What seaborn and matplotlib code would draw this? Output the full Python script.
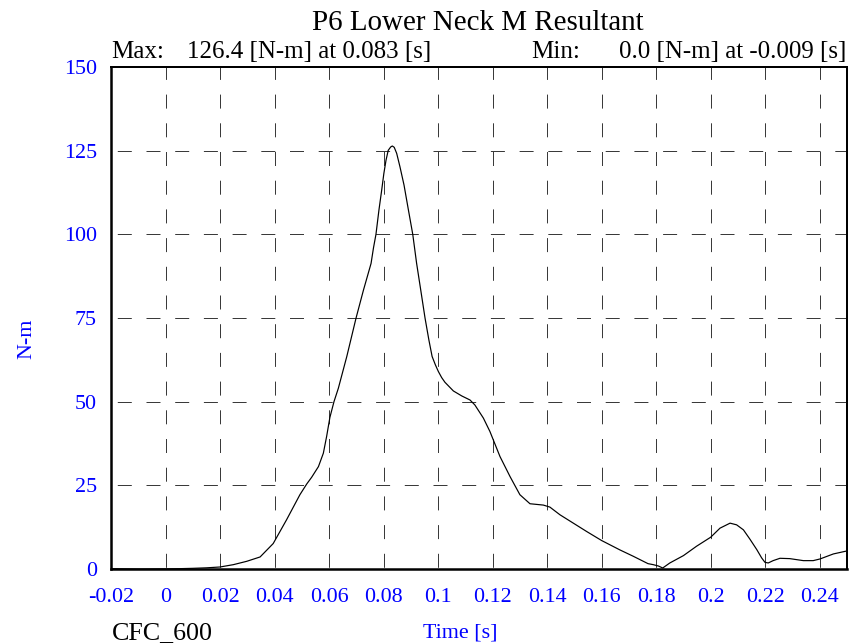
import matplotlib
matplotlib.use("Agg")
import matplotlib.pyplot as plt
import seaborn as sns
import pandas as pd
from matplotlib.ticker import FixedLocator, FixedFormatter, MultipleLocator

# ---- data ----
time_s = [-0.020, -0.015, -0.009, -0.005, 0.000, 0.005, 0.010, 0.015, 0.020, 0.0249,
          0.0298, 0.0347, 0.0395, 0.0444, 0.0493, 0.0518, 0.0536, 0.0561, 0.0579, 0.0591,
          0.0603, 0.0618, 0.0634, 0.0665, 0.0699, 0.0726, 0.0754, 0.0763, 0.0772, 0.0783,
          0.0793, 0.0801, 0.0809, 0.0817, 0.0826, 0.0832, 0.0839, 0.0848, 0.0860, 0.0875,
          0.0891, 0.0907, 0.0921, 0.0936, 0.0952, 0.0966, 0.0978, 0.0990, 0.1001, 0.1013,
          0.1025, 0.1056, 0.1087, 0.1117, 0.1135, 0.1166, 0.1190, 0.1227, 0.1264, 0.1300,
          0.1337, 0.1386, 0.1410, 0.1447, 0.1496, 0.1545, 0.1600, 0.1667, 0.1716, 0.1770,
          0.1789, 0.1808, 0.1824, 0.1850, 0.1900, 0.1948, 0.2000, 0.2034, 0.2071, 0.2095,
          0.2120, 0.2144, 0.2169, 0.2187, 0.2199, 0.2211, 0.2229, 0.2254, 0.2290, 0.2340,
          0.2376, 0.2401, 0.2450, 0.2500]
moment_nm = [0.1, 0.05, 0.0, 0.02, 0.05, 0.1, 0.2, 0.35, 0.6, 1.3,
             2.3, 3.6, 7.6, 14.7, 22.2, 25.4, 27.4, 30.6, 34.6, 39.6,
             45.3, 50.0, 54.0, 63.5, 75.0, 83.3, 91.3, 96.0, 100.0, 107.3,
             113.2, 118.2, 122.2, 125.1, 126.1, 126.4, 126.0, 124.2, 120.2, 114.7,
             107.3, 100.0, 91.4, 83.5, 75.0, 68.5, 63.5, 61.0, 59.0, 57.2,
             55.8, 53.2, 51.7, 50.5, 49.0, 45.1, 41.1, 33.6, 27.6, 22.2,
             19.5, 19.1, 18.5, 16.2, 13.7, 11.2, 8.5, 5.7, 3.8, 1.6,
             1.3, 0.9, 0.3, 1.8, 4.0, 6.8, 9.5, 12.2, 13.7, 13.2,
             11.7, 8.9, 5.8, 3.3, 2.0, 1.8, 2.5, 3.2, 3.1, 2.5,
             2.5, 3.0, 4.5, 5.4]

x_major = [-0.02, 0.0, 0.02, 0.04, 0.06, 0.08, 0.10, 0.12, 0.14, 0.16, 0.18, 0.20, 0.22, 0.24]
x_labels = ["-0.02", "0", "0.02", "0.04", "0.06", "0.08", "0.1", "0.12", "0.14", "0.16",
            "0.18", "0.2", "0.22", "0.24"]
y_major = [0, 25, 50, 75, 100, 125, 150]
y_labels = ["0", "25", "50", "75", "100", "125", "150"]

title = "P6 Lower Neck M Resultant"
max_label, max_value = "Max:", "126.4 [N-m] at 0.083 [s]"
min_label, min_value = "Min:", "0.0 [N-m] at -0.009 [s]"
filter_label = "CFC_600"

# ---- styling ----
sns.set_style("white")
plt.rcParams["font.family"] = ["Liberation Serif", "DejaVu Serif"]
BLUE = "#0000FF"
W, H, DPI = 862, 644, 72

fig = plt.figure(figsize=(W / DPI, H / DPI), dpi=DPI)
ax = fig.add_axes([111 / W, 1 - 569 / H, (847 - 111) / W, (569 - 67) / H])

df = pd.DataFrame({"Time [s]": time_s, "N-m": moment_nm})
sns.lineplot(data=df, x="Time [s]", y="N-m", ax=ax, color="black", linewidth=1.2,
             estimator=None, sort=False, zorder=5)

ax.set_xlim(-0.02, 0.25)
ax.set_ylim(0, 150)

ax.xaxis.set_major_locator(FixedLocator(x_major))
ax.xaxis.set_major_formatter(FixedFormatter(x_labels))
ax.xaxis.set_minor_locator(MultipleLocator(0.01))
ax.yaxis.set_major_locator(FixedLocator(y_major))
ax.yaxis.set_major_formatter(FixedFormatter(y_labels))
ax.yaxis.set_minor_locator(MultipleLocator(12.5))

ax.tick_params(axis="both", which="major", direction="inout", length=18, width=2,
               color="black", labelcolor=BLUE, labelsize=22)
ax.tick_params(axis="x", which="major", pad=10)
ax.tick_params(axis="y", which="major", pad=5)
ax.tick_params(axis="both", which="minor", direction="inout", length=10, width=1.6,
               color="black")
ax.tick_params(top=False, right=False, which="both")

for side in ["left", "bottom"]:
    ax.spines[side].set_linewidth(2.5)
for side in ["top", "right"]:
    ax.spines[side].set_linewidth(2)
for s in ax.spines.values():
    s.set_color("black")
    s.set_zorder(6)

ax.xaxis.grid(True, which="major", color="#3a3a3a", linewidth=1, linestyle=(27, (14, 14.7)))
ax.yaxis.grid(True, which="major", color="#3a3a3a", linewidth=1, linestyle=(22.4, (14, 14.7)))
ax.set_axisbelow(True)

ax.set_xlabel("Time [s]", color=BLUE, fontsize=22)
ax.set_ylabel("N-m", color=BLUE, fontsize=22)
ax.xaxis.set_label_coords((460 - 111) / 736, (569 - 633) / 502)
ax.xaxis.label.set_va("center")
ax.yaxis.set_label_coords((27 - 111) / 736, (569 - 339) / 502)
ax.yaxis.label.set_va("center")

def fx(px):
    return px / W

def fy(py):
    return 1 - py / H

fig.text(fx(478), fy(29.5), title, ha="center", va="baseline", fontsize=29, color="black")
fig.text(fx(111), fy(58), max_label, ha="left", va="baseline", fontsize=25, color="black")
fig.text(fx(431), fy(58), max_value, ha="right", va="baseline", fontsize=25, color="black")
fig.text(fx(531), fy(58), min_label, ha="left", va="baseline", fontsize=25, color="black")
fig.text(fx(846), fy(58), min_value, ha="right", va="baseline", fontsize=25, color="black")
fig.text(fx(112), fy(639), filter_label, ha="left", va="baseline", fontsize=26, color="black")

fig.savefig("out.png", dpi=DPI, facecolor="white")
